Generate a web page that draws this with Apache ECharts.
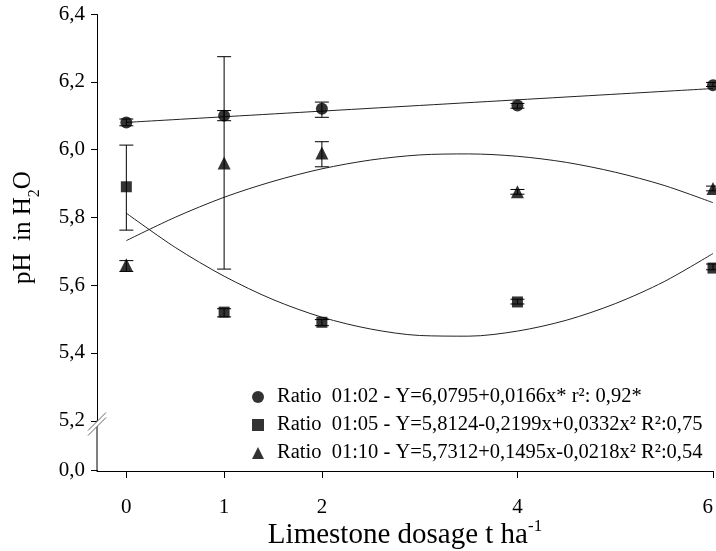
<!DOCTYPE html>
<html>
<head>
<meta charset="utf-8">
<script src="https://cdn.jsdelivr.net/npm/echarts@6.0.0/dist/echarts.min.js"></script>
<style>
  html, body { margin: 0; padding: 0; background: #fff; }
  #chart { width: 716px; height: 551px; }
</style>
</head>
<body>
<div id="chart"></div>
<script>
// dosages (t/ha) and measured pH
const doses = [0, 1, 2, 4, 6];
const ph12 = [6.08, 6.10, 6.12, 6.13, 6.19];
const ph15 = [5.89, 5.52, 5.49, 5.55, 5.65];
const ph110 = [5.66, 5.96, 5.99, 5.875, 5.885];

// error bars: [low, high] per dose
const err12 = [[6.07, 6.09], [6.085, 6.115], [6.095, 6.14], [6.122, 6.136], [6.186, 6.198]];
const err15 = [[5.762, 6.013], [5.506, 5.53], [5.48, 5.498], [5.544, 5.558], [5.645, 5.662]];
const err110 = [[5.64, 5.672], [5.647, 6.274], [5.949, 6.023], [5.868, 5.882], [5.878, 5.892]];

// fitted curves
const fitX = [0, 0.5, 1, 1.5, 2, 2.5, 3, 3.5, 4, 4.5, 5, 5.5, 6];
const fit12X = [0, 6];
const fit12 = [6.08, 6.18];
const fit15 = [5.812, 5.711, 5.626, 5.557, 5.505, 5.470, 5.451, 5.449, 5.464, 5.496, 5.545, 5.610, 5.693];
const fit110 = [5.731, 5.800, 5.859, 5.906, 5.943, 5.969, 5.984, 5.987, 5.980, 5.962, 5.933, 5.894, 5.843];

const xTicks = [0, 1, 2, 4, 6];
const names = [
  'Ratio  01:02 - Y=6,0795+0,0166x* r²: 0,92*',
  'Ratio  01:05 - Y=5,8124-0,2199x+0,0332x² R²:0,75',
  'Ratio  01:10 - Y=5,7312+0,1495x-0,0218x² R²:0,54'
];

const font = 'Liberation Serif';
const chart = echarts.init(document.getElementById('chart'));

function pts(xs, ys) {
  return xs.map((x, i) => [x, ys[i]]);
}
function errData(errs) {
  return doses.map((x, i) => [x, errs[i][0], errs[i][1]]);
}
function renderErr(params, api) {
  const x = api.value(0);
  const lo = api.coord([x, api.value(1)]);
  const hi = api.coord([x, api.value(2)]);
  const w = 7;
  const st = { stroke: '#000', lineWidth: 1 };
  return {
    type: 'group',
    children: [
      { type: 'line', shape: { x1: lo[0], y1: lo[1], x2: hi[0], y2: hi[1] }, style: st },
      { type: 'line', shape: { x1: lo[0] - w, y1: lo[1], x2: lo[0] + w, y2: lo[1] }, style: st },
      { type: 'line', shape: { x1: hi[0] - w, y1: hi[1], x2: hi[0] + w, y2: hi[1] }, style: st }
    ]
  };
}
function fitLine(xs, ys) {
  return {
    type: 'line', data: pts(xs, ys), smooth: 0.3, symbol: 'none',
    lineStyle: { color: '#222', width: 1 }, silent: true, z: 1
  };
}
function errSeries(errs) {
  return { type: 'custom', renderItem: renderErr, data: errData(errs), silent: true, z: 2 };
}
function pointSeries(name, ys, symbol, size) {
  return {
    name: name, type: 'scatter', data: pts(doses, ys), symbol: symbol, symbolSize: size,
    itemStyle: { color: '#000' }, z: 3
  };
}

const option = {
  animation: false,
  grid: { left: 97, right: 3, top: 14, bottom: 80, outerBoundsMode: 'none' },
  legend: {
    orient: 'vertical', left: 247, top: 378, itemGap: 0,
    itemWidth: 12, itemHeight: 12,
    textStyle: { fontFamily: font, fontSize: 20.5, color: '#000', lineHeight: 28, padding: [0, 0, 0, 8] },
    data: [
      { name: names[0], icon: 'circle' },
      { name: names[1], icon: 'rect' },
      { name: names[2], icon: 'triangle' }
    ]
  },
  xAxis: {
    type: 'value', min: -0.3, max: 6,
    name: '{n|Limestone dosage t ha}{s|-1}',
    nameLocation: 'middle', nameGap: 47, nameMoveOverlap: false,
    nameTextStyle: {
      rich: {
        n: { fontFamily: font, fontSize: 29, color: '#000', lineHeight: 32, verticalAlign: 'bottom' },
        s: { fontFamily: font, fontSize: 17, color: '#000', lineHeight: 32, verticalAlign: 'top' }
      }
    },
    axisLine: { onZero: false, lineStyle: { color: '#000' } },
    axisTick: { customValues: xTicks, length: 7, lineStyle: { color: '#000' } },
    axisLabel: {
      customValues: xTicks, fontFamily: font, fontSize: 21, color: '#000', margin: 26,
      alignMaxLabel: 'right'
    },
    splitLine: { show: false }
  },
  yAxis: {
    type: 'value', min: 0, max: 6.4, interval: 0.2,
    breaks: [{ start: 0.001, end: 5.199, gap: 0.147 }],
    breakArea: { show: false },
    breakLabelLayout: { moveOverlap: false },
    name: '{n|pH  in H}{s|2}{n|O}',
    nameLocation: 'middle', nameGap: 54, nameRotate: 90,
    nameTextStyle: {
      padding: [0, 0, 0, 30],
      rich: {
        n: { fontFamily: font, fontSize: 25, color: '#000', lineHeight: 32, verticalAlign: 'top' },
        s: { fontFamily: font, fontSize: 16, color: '#000', lineHeight: 32, verticalAlign: 'bottom' }
      }
    },
    axisLine: { show: true, onZero: false, lineStyle: { color: '#000' } },
    axisTick: { show: true, length: 6, lineStyle: { color: '#000' } },
    axisLabel: {
      fontFamily: font, fontSize: 21, color: '#000', margin: 12, verticalAlign: 'middle',
      formatter: v => v.toFixed(1).replace('.', ',')
    },
    splitLine: { show: false }
  },
  series: [
    fitLine(fit12X, fit12),
    fitLine(fitX, fit15),
    fitLine(fitX, fit110),
    errSeries(err12),
    errSeries(err15),
    errSeries(err110),
    pointSeries(names[0], ph12, 'circle', 12),
    pointSeries(names[1], ph15, 'rect', 11),
    pointSeries(names[2], ph110, 'triangle', 13)
  ]
};
chart.setOption(option);

// keep the y axis line continuous across the break and add the "//" mark
const breakTop = chart.convertToPixel({ gridIndex: 0 }, [-0.3, 5.2]);
const breakBot = chart.convertToPixel({ gridIndex: 0 }, [-0.3, 0]);
const bx = breakTop[0], by = breakTop[1] + 2;
const axisSt = { stroke: '#000', lineWidth: 1 };
const markSt = { stroke: '#666', lineWidth: 1 };
chart.setOption({
  graphic: [
    { type: 'line', shape: { x1: bx, y1: breakTop[1], x2: bx, y2: breakBot[1] }, style: axisSt, z: 10 },
    {
      type: 'polygon', z: 11,
      shape: { points: [[bx - 9, by + 8], [bx + 9, by - 10], [bx + 9, by - 5], [bx - 9, by + 13]] },
      style: { fill: '#fff' }
    },
    { type: 'line', shape: { x1: bx - 9, y1: by + 8, x2: bx + 9, y2: by - 10 }, style: markSt, z: 12 },
    { type: 'line', shape: { x1: bx - 9, y1: by + 13, x2: bx + 9, y2: by - 5 }, style: markSt, z: 12 }
  ]
});
</script>
</body>
</html>
